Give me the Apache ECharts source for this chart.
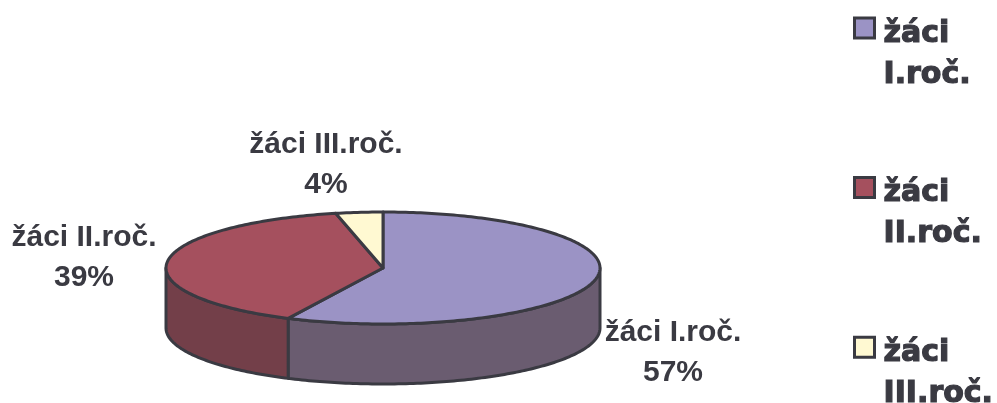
<!DOCTYPE html>
<html>
<head>
<meta charset="utf-8">
<style>
  html, body { margin: 0; padding: 0; background: #fff; }
  #chart { width: 997px; height: 403px; }
</style>
<script src="https://cdn.jsdelivr.net/npm/echarts@6/dist/echarts.min.js"></script>
</head>
<body>
<div id="chart"></div>
<script>
const categories = ["žáci I.roč.", "žáci II.roč.", "žáci III.roč."];
const shares = [57.2, 39.3, 3.5];
const legendLines = [["žáci", "I.roč."], ["žáci", "II.roč."], ["žáci", "III.roč."]];

const topColors = ["#9b93c5", "#a5505e", "#fff9d2"];
const sideColors = ["#6a5c70", "#733f49", "#b3ae93"];
const lineColor = "#3a3a42";

// pie geometry
const cx = 383;
const cy = 268;
const rx = 217;
const ry = 56;
const depth = 60;
const labelPos = [[673, 353], [84, 258], [326, 165]];

const total = shares.reduce((a, b) => a + b, 0);

// angle in degrees, clockwise from the top of the ellipse
const rimPoint = (deg, dy) => {
  const a = (deg * Math.PI) / 180;
  return [cx + rx * Math.sin(a), cy - ry * Math.cos(a) + dy];
};

const arcPoints = (from, to, dy) => {
  const pts = [];
  const steps = Math.max(2, Math.ceil(Math.abs(to - from)));
  for (let i = 0; i <= steps; i++) {
    pts.push(rimPoint(from + ((to - from) * i) / steps, dy));
  }
  return pts;
};

const makeRenderItem = (index) => (params, api) => {
  const value = api.value(0);
  const before = shares.slice(0, index).reduce((a, b) => a + b, 0);
  const start = (before / total) * 360;
  const end = ((before + value) / total) * 360;
  const children = [];

  // only the front half of the wall is visible
  const sideFrom = Math.max(start, 90);
  const sideTo = Math.min(end, 270);
  if (sideTo > sideFrom) {
    children.push({
      type: "polygon",
      shape: {
        points: arcPoints(sideFrom, sideTo, 0).concat(arcPoints(sideTo, sideFrom, depth)),
      },
      style: { fill: sideColors[index], stroke: lineColor, lineWidth: 3, lineJoin: "round" },
    });
  }

  children.push({
    type: "polygon",
    shape: { points: [[cx, cy]].concat(arcPoints(start, end, 0)) },
    style: { fill: topColors[index], stroke: lineColor, lineWidth: 3, lineJoin: "round" },
  });

  children.push({
    type: "text",
    style: {
      x: labelPos[index][0],
      y: labelPos[index][1],
      text: categories[index] + "\n" + Math.round((value / total) * 100) + "%",
      align: "center",
      verticalAlign: "middle",
      font: 'bold 30px "Liberation Sans"',
      lineHeight: 40,
      fill: lineColor,
    },
  });

  return { type: "group", children };
};

const chart = echarts.init(document.getElementById("chart"));

chart.setOption({
  animation: false,
  legend: {
    orient: "vertical",
    left: 853,
    top: -18,
    height: 600,
    padding: 0,
    itemWidth: 20,
    itemHeight: 20,
    itemGap: 51,
    icon: "rect",
    selectedMode: false,
    itemStyle: { borderColor: lineColor, borderWidth: 3 },
    data: categories,
    // the empty first row pushes "žáci" down level with the square
    formatter: (name) => {
      const lines = legendLines[categories.indexOf(name)];
      return "{gap| }\n{line|" + lines[0] + "}\n{line|" + lines[1] + "}";
    },
    textStyle: {
      rich: {
        gap: { lineHeight: 53, fontSize: 10 },
        line: {
          color: lineColor,
          fontFamily: "DejaVu Sans",
          fontWeight: "bold",
          fontSize: 30,
          lineHeight: 41,
          textBorderColor: lineColor,
          textBorderWidth: 1.2,
          padding: [0, 0, 0, 4],
        },
      },
    },
  },
  series: categories.map((name, i) => ({
    name,
    type: "custom",
    coordinateSystem: "none",
    silent: true,
    itemStyle: { color: topColors[i] },
    renderItem: makeRenderItem(i),
    data: [shares[i]],
  })),
});
</script>
</body>
</html>
